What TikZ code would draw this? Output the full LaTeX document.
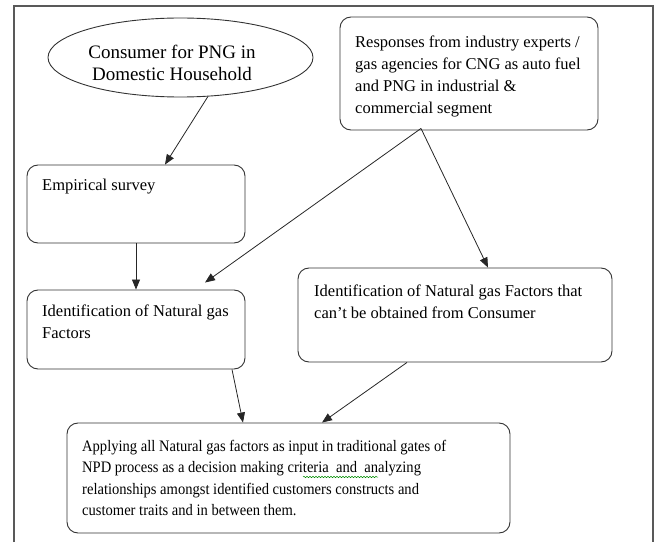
\documentclass[tikz,border=0pt]{standalone}
\usepackage{fontspec}
\setmainfont{Liberation Serif}
\newfontfamily\condserif[FakeStretch=0.91]{Liberation Serif}
\usetikzlibrary{arrows.meta,calc,shapes.geometric,decorations.pathmorphing}
\begin{document}
\begin{tikzpicture}[x=1pt,y=1pt,
  boxstyle/.style={draw=black!80,line width=0.9pt,rounded corners=11pt,inner sep=0pt},
  txt/.style={anchor=north west,inner sep=0pt,align=left,font=\fontsize{16.5}{22}\selectfont},
  arr/.style={draw=black!85,line width=0.8pt,-{Triangle[length=10pt,width=8pt]}},
  framestyle/.style={draw=black!65,line width=1.1pt}]
\useasboundingbox (0,0) rectangle (657,542);
% outer frame
\draw[framestyle] (14,0) -- (14,536) -- (653,536) -- (653,0);
% shapes
\node[ellipse,draw=black!80,line width=0.9pt,minimum width=265pt,minimum height=79pt,inner sep=0pt] (cons) at (180.5,484.5) {};
\node[boxstyle,minimum width=258pt,minimum height=113pt] (resp) at (469,468.5) {};
\node[boxstyle,minimum width=218pt,minimum height=78pt] (emp) at (136,338) {};
\node[boxstyle,minimum width=218pt,minimum height=79pt] (idl) at (136,212.5) {};
\node[boxstyle,minimum width=314pt,minimum height=94pt] (idr) at (455,227) {};
\node[boxstyle,minimum width=443pt,minimum height=110pt] (bot) at (288.5,64) {};
% texts
\node[inner sep=0pt,align=center,font=\fontsize{19}{22}\selectfont] (tcons) at (172,479) {Consumer for PNG in\\Domestic Household};
\node[txt] (tresp) at (355,506) {Responses from industry experts /\\gas agencies for CNG as auto fuel\\and PNG in industrial \&\\commercial segment};
\node[txt] (temp) at (42,363) {Empirical survey};
\node[txt] (tidl) at (42,237) {Identification of Natural gas\\Factors};
\node[txt] (tidr) at (314,257) {Identification of Natural gas Factors that\\can't be obtained from Consumer};
\node[txt,font=\condserif\fontsize{16}{21.5}\selectfont] (tbot) at (82,102) {Applying all Natural gas factors as input in traditional gates of\\NPD process as a decision making criteria\ \ and\ \ analyzing\\relationships amongst identified customers constructs and\\customer traits and in between them.};
% spell-check underline
\coordinate (sq1) at (303,65);
\coordinate (sq2) at (378,65);
\draw[green!55!black,line width=0.5pt,decorate,decoration={snake,segment length=3pt,amplitude=0.7pt}] (sq1) -- (sq2);
% connectors
\draw[arr] (cons.-55) -- ($(emp.north)+(29,0)$);
\draw[arr] (emp.south) -- (idl.north);
\draw[arr] ($(resp.south)+(-48,2)$) -- ($(idl.north)+(69,7)$);
\draw[arr] ($(resp.south)+(-48,2)$) -- ($(idr.north)+(33,0)$);
\draw[arr] ($(idl.south)+(96,0)$) -- ($(bot.north)+(-45.5,0)$);
\draw[arr] ($(idr.south)+(-48,0)$) -- ($(bot.north)+(33.5,0)$);
\end{tikzpicture}
\end{document}
